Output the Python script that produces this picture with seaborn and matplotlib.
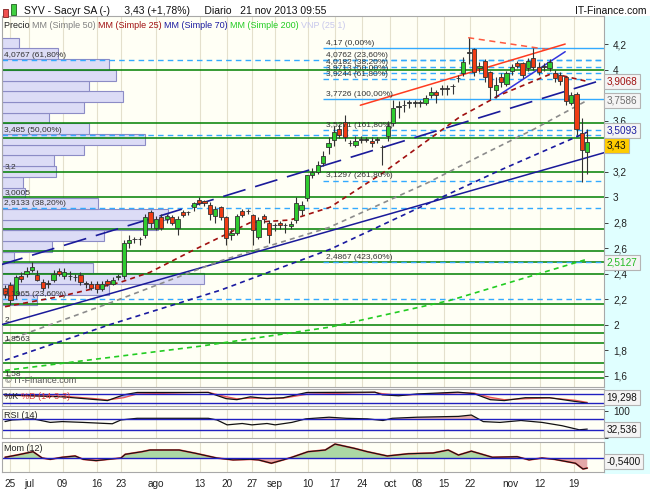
import matplotlib
matplotlib.use("Agg")
import matplotlib.pyplot as plt
import matplotlib.transforms as mtransforms
from matplotlib.patches import Rectangle
from matplotlib.ticker import FuncFormatter
import numpy as np
import seaborn as sns

# ---- SYV daily candles, 25 jun - 21 nov 2013 ----
opens = [2.29, 2.31, 2.23, 2.38, 2.40, 2.43, 2.39, 2.33, 2.32, 2.35,
         2.42, 2.38, 2.38, 2.37, 2.39, 2.32, 2.32, 2.32, 2.28, 2.34,
         2.32, 2.37, 2.38, 2.64, 2.67, 2.67, 2.70, 2.88, 2.76, 2.84,
         2.83, 2.84, 2.76, 2.88, 2.88, 2.92, 2.98, 2.97, 2.94, 2.85,
         2.92, 2.84, 2.70, 2.72, 2.89, 2.89, 2.86, 2.69, 2.85, 2.80,
         2.78, 2.80, 2.78, 2.77, 2.82, 2.90, 2.99, 3.17, 3.20, 3.27,
         3.39, 3.45, 3.53, 3.59, 3.42, 3.41, 3.45, 3.45, 3.44, 3.45,
         3.39, 3.48, 3.58, 3.71, 3.72, 3.74, 3.74, 3.74, 3.74, 3.80,
         3.82, 3.85, 3.85, 3.87, 3.93, 3.97, 4.13, 4.16, 4.01, 4.07,
         3.98, 3.84, 3.94, 3.89, 3.99, 4.05, 4.05, 4.01, 4.09, 4.02,
         4.02, 4.01, 3.97, 3.96, 3.94, 3.74, 3.81, 3.50, 3.35]
highs = [2.31, 2.33, 2.39, 2.41, 2.45, 2.49, 2.43, 2.36, 2.35, 2.43,
         2.44, 2.44, 2.42, 2.40, 2.41, 2.34, 2.34, 2.34, 2.34, 2.36,
         2.37, 2.40, 2.66, 2.70, 2.69, 2.69, 2.87, 2.90, 2.85, 2.87,
         2.87, 2.86, 2.85, 2.90, 2.89, 2.96, 3.00, 2.98, 2.96, 2.93,
         2.93, 2.85, 2.75, 2.87, 2.91, 2.91, 2.87, 2.84, 2.87, 2.82,
         2.80, 2.81, 2.80, 2.81, 3.00, 2.97, 3.17, 3.23, 3.28, 3.36,
         3.47, 3.56, 3.57, 3.64, 3.45, 3.48, 3.48, 3.47, 3.47, 3.47,
         3.41, 3.60, 3.76, 3.75, 3.76, 3.76, 3.76, 3.76, 3.80, 3.86,
         3.84, 3.88, 3.88, 3.89, 3.96, 4.10, 4.25, 4.17, 4.06, 4.08,
         3.99, 3.94, 3.97, 3.99, 4.04, 4.07, 4.06, 4.09, 4.17, 4.06,
         4.05, 4.08, 4.00, 3.98, 3.95, 3.82, 3.82, 3.62, 3.53]
lows = [2.21, 2.15, 2.20, 2.33, 2.37, 2.41, 2.34, 2.26, 2.29, 2.33,
        2.38, 2.36, 2.35, 2.34, 2.31, 2.29, 2.27, 2.25, 2.26, 2.30,
        2.31, 2.35, 2.36, 2.60, 2.64, 2.62, 2.68, 2.76, 2.74, 2.74,
        2.80, 2.78, 2.70, 2.84, 2.86, 2.89, 2.94, 2.93, 2.82, 2.80,
        2.82, 2.62, 2.66, 2.70, 2.84, 2.87, 2.62, 2.67, 2.80, 2.64,
        2.73, 2.75, 2.72, 2.75, 2.80, 2.86, 2.97, 3.15, 3.18, 3.24,
        3.34, 3.40, 3.46, 3.44, 3.40, 3.39, 3.42, 3.43, 3.39, 3.42,
        3.25, 3.44, 3.56, 3.62, 3.67, 3.70, 3.71, 3.71, 3.72, 3.78,
        3.74, 3.80, 3.80, 3.81, 3.90, 3.95, 4.04, 3.95, 3.98, 3.90,
        3.77, 3.78, 3.86, 3.87, 3.96, 4.01, 3.93, 3.99, 4.00, 3.96,
        3.99, 3.99, 3.90, 3.88, 3.72, 3.72, 3.49, 3.12, 3.18]
closes = [2.24, 2.19, 2.37, 2.36, 2.42, 2.45, 2.35, 2.29, 2.32, 2.40,
          2.40, 2.41, 2.38, 2.37, 2.33, 2.32, 2.29, 2.28, 2.32, 2.32,
          2.35, 2.38, 2.64, 2.66, 2.67, 2.67, 2.84, 2.80, 2.83, 2.76,
          2.85, 2.80, 2.83, 2.86, 2.88, 2.95, 2.95, 2.95, 2.87, 2.91,
          2.84, 2.68, 2.72, 2.85, 2.86, 2.89, 2.74, 2.82, 2.83, 2.70,
          2.78, 2.78, 2.78, 2.79, 2.95, 2.94, 3.17, 3.20, 3.25, 3.32,
          3.42, 3.51, 3.49, 3.47, 3.42, 3.44, 3.45, 3.45, 3.42, 3.45,
          3.39, 3.56, 3.70, 3.71, 3.72, 3.74, 3.74, 3.74, 3.78, 3.82,
          3.80, 3.85, 3.85, 3.87, 3.93, 4.06, 4.13, 3.98, 4.03, 3.94,
          3.86, 3.88, 3.90, 3.97, 4.02, 4.03, 3.96, 4.07, 4.02, 3.98,
          4.02, 4.06, 3.93, 3.91, 3.75, 3.80, 3.53, 3.37, 3.43]

tick_labels = ["25", "jul", "09", "16", "23", "ago", "13", "20", "27", "sep",
               "10", "17", "24", "oct", "08", "15", "22", "nov", "12", "19"]
tick_pos = [1.0, 4.5, 10.7, 17.0, 21.5, 28.0, 36.2, 41.2, 45.8, 50.1,
            56.2, 61.2, 66.3, 71.4, 76.4, 81.4, 86.3, 93.7, 99.3, 105.6]

# moving averages (sampled along the curves)
sma50_x = [0, 19.5, 40, 60, 78.3, 89.4, 98, 108]
sma50 = [1.87, 2.17, 2.50, 2.76, 3.11, 3.35, 3.53, 3.7586]
sma25_x = [0, 10.2, 21.3, 26.9, 34.3, 45.5, 52.9, 60.3, 70.1, 84.4, 91.8, 101.5, 108]
sma25 = [2.14, 2.22, 2.33, 2.41, 2.57, 2.80, 2.82, 2.92, 3.19, 3.63, 3.80, 3.97, 3.9068]
sma70_x = [0, 19.5, 40, 60.3, 77, 91.8, 108]
sma70 = [1.72, 2.00, 2.27, 2.59, 2.92, 3.21, 3.5093]
sma200_x = [0, 36.2, 60.3, 82.6, 108]
sma200 = [1.64, 1.83, 1.98, 2.19, 2.5127]

# volume-by-price profile, 25 bins, bottom to top
vnp = [35, 107, 202, 91, 12, 50, 102, 156, 166, 96, 23, 21, 54,
       52, 82, 143, 87, 47, 82, 121, 87, 114, 107, 56, 17]

green_levels = [4.0, 3.58, 3.465, 3.2, 3.0005, 2.75, 2.58, 2.49, 2.40,
                2.16, 2.0, 1.93, 1.8563, 1.695, 1.625, 1.58]
green_named = [3.2, 3.0005, 2.0, 1.8563, 1.58]

fibA = [4.17, 4.0762, 4.0182, 3.9713, 3.9244, 3.7726, 3.5271, 3.1297, 2.4867]
fibA_pct = ["0,00%", "23,60%", "38,20%", "50,00%", "61,80%", "100,00%",
            "161,80%", "261,80%", "423,60%"]
fibB = [4.0767, 3.485, 2.9133, 2.1965]
fibB_pct = ["61,80%", "50,00%", "38,20%", "23,60%"]

# trend lines: (x0, y0, x1, y1)
trend_long_dash = (-0.9, 2.467, 111.3, 3.925)
trend_navy = (-0.9, 1.996, 111.3, 3.35)
trend_red = (65.9, 3.72, 103.9, 4.20)
trend_red_dash = (85.9, 4.25, 100.2, 4.16)
trend_blue = (90.9, 3.78, 103.9, 4.14)

# indicators
stoch_x = [0, 10.6, 17, 19, 22, 24.5, 37.7, 41, 43, 45.5, 48.6, 51.6, 56,
           68.6, 70, 73, 76.4, 84, 87, 90, 92.6, 96.5, 101, 105.8, 108]
stoch_k = [74, 61, 42, 36, 74, 90, 90, 49, 42, 61, 49, 55, 90,
           92, 74, 68, 80, 92, 82, 42, 36, 55, 55, 30, 19.298]
stoch_d = [70, 66, 48, 40, 55, 80, 91, 62, 48, 52, 52, 52, 78,
           91, 82, 72, 76, 88, 86, 58, 42, 48, 54, 38, 24]

rsi_x = [0, 1.3, 5.2, 8.4, 10.6, 14.5, 19.9, 21.5, 24.5, 37.7, 39.3, 41.2,
         44, 45.8, 48.6, 50.1, 53.2, 55.8, 60.1, 63.3, 67.2, 70.1, 71.8,
         76.4, 84.1, 86.5, 88.7, 91.8, 95.7, 99.6, 103.3, 106.5, 108]
rsi = [60, 66, 70, 57, 60, 57, 52, 66, 72, 72, 66, 48,
       53, 48, 53, 48, 57, 70, 76, 72, 70, 64, 72,
       76, 79, 84, 60, 57, 64, 57, 45, 30, 32.536]

mom_x = [0, 2.2, 5.2, 6.9, 8.4, 10.6, 13, 14.5, 16.9, 19.1, 21.5, 22.3,
         25.4, 26.9, 32.3, 35.4, 39.3, 42.3, 45.5, 47, 49.4, 51.6, 53.2,
         56.2, 59.4, 61.2, 64.8, 67.2, 70.9, 74.8, 79.4, 82.2, 84.1, 86.5,
         90.4, 95, 97.2, 99.6, 101.9, 105.8, 107.2, 108]
mom = [0.04, 0.16, 0.34, 0, -0.07, 0.04, 0.11, -0.07, -0.14, -0.07, 0, 0.2,
       0.34, 0.43, 0.43, 0.25, 0, -0.1, -0.07, -0.1, -0.28, -0.1, 0.04,
       0.34, 0.43, 0.75, 0.52, 0.34, 0.11, 0.23, 0.27, 0.43, 0.16, 0.37,
       0.04, 0.07, -0.1, 0, -0.07, -0.28, -0.59, -0.54]


def fmt(v):
    return ("%g" % v).replace(".", ",")


sns.set_style("white")
plt.rcParams["font.family"] = ["Liberation Sans", "DejaVu Sans"]

W, H = 650, 490
fig = plt.figure(figsize=(W / 100, H / 100), dpi=100)


def box(x0, y0, x1, y1):
    return [x0 / W, 1 - y1 / H, (x1 - x0) / W, (y1 - y0) / H]


# light cyan strip behind the right price scale
fig.patches.append(Rectangle((604 / W, 1 - 474 / H), 46 / W, 458 / H,
                             transform=fig.transFigure, fc="#e0ffff", ec="none", zorder=-5))

ax = fig.add_axes(box(2, 16, 604, 387))
ax_st = fig.add_axes(box(2, 389, 604, 406), sharex=ax)
ax_rsi = fig.add_axes(box(2, 409, 604, 438), sharex=ax)
ax_mom = fig.add_axes(box(2, 442, 604, 472), sharex=ax)
panels = [ax, ax_st, ax_rsi, ax_mom]

for a in panels:
    a.set_facecolor("#fffff5")
    for sp in a.spines.values():
        sp.set_color("#a8a8a8")
        sp.set_linewidth(0.8)
    a.grid(axis="x", color="#e4e0cc", lw=0.8)
    a.set_axisbelow(True)
    a.yaxis.tick_right()
    a.tick_params(axis="both", labelsize=7.2, colors="#222222", length=3, width=0.6)
    a.tick_params(axis="x", labelbottom=False, length=0)

ax.set_xticks(tick_pos)
ax.set_xlim(-0.56, 111.1)

# ---- main price panel ----
blend = mtransforms.blended_transform_factory(ax.transAxes, ax.transData)
edges = np.linspace(min(lows), max(highs), len(vnp) + 1)
ax.barh(edges[:-1], np.array(vnp) / 602.0, height=edges[1] - edges[0], left=0,
        align="edge", transform=blend, facecolor="#dcdcf6", edgecolor="#8c8cc6",
        linewidth=0.8, zorder=1)

for lv in green_levels:
    ax.axhline(lv, color="#008000", lw=1.1, zorder=2)
for lv in green_named:
    ax.text(0.004, lv + 0.008, fmt(lv), transform=blend, fontsize=6, color="#333333",
            va="bottom", zorder=6)

for lv, p in zip(fibB, fibB_pct):
    ax.axhline(lv, color="#33aaff", lw=1.0, ls=(0, (4, 3)), zorder=2)
    ax.text(0.004, lv + 0.008, "%s (%s)" % (fmt(lv), p), transform=blend, fontsize=6,
            color="#333333", va="bottom", zorder=6)

for lv, p in zip(fibA, fibA_pct):
    ls = "-" if p in ("0,00%", "100,00%") else (0, (4, 3))
    ax.hlines(lv, 59, 111.1, color="#33aaff", lw=1.0, linestyles=ls, zorder=2)
    ax.text(59.6, lv + 0.008, "%s (%s)" % (fmt(lv), p), fontsize=6, color="#333333",
            va="bottom", zorder=6)

ax.plot(trend_long_dash[::2], trend_long_dash[1::2], color="#1a1a9a", lw=1.2,
        ls=(0, (14, 6)), zorder=3)
ax.plot(trend_navy[::2], trend_navy[1::2], color="#1a1a9a", lw=1.1, zorder=3)
ax.plot(trend_red[::2], trend_red[1::2], color="#ff3b1f", lw=1.1, zorder=3)
ax.plot(trend_red_dash[::2], trend_red_dash[1::2], color="#ff5a40", lw=1.1,
        ls=(0, (4, 3)), zorder=3)
ax.plot(trend_blue[::2], trend_blue[1::2], color="#3333dd", lw=1.1, zorder=3)

ma_style = dict(ax=ax, linestyle=(0, (3, 2.5)), linewidth=1.2, zorder=3)
sns.lineplot(x=sma200_x, y=sma200, color="#22cc22", **ma_style)
sns.lineplot(x=sma50_x, y=sma50, color="#8c8c8c", **ma_style)
sns.lineplot(x=sma70_x, y=sma70, color="#1a1aa0", **ma_style)
sns.lineplot(x=sma25_x, y=sma25, color="#a01010", **ma_style)

idx = np.arange(len(closes))
o = np.array(opens)
c = np.array(closes)
ax.vlines(idx, lows, highs, color="#333333", lw=0.8, zorder=4)
body_col = ["#2fcc2f" if cc > oo else ("#333333" if cc == oo else "#f03c14")
            for oo, cc in zip(o, c)]
ax.bar(idx, np.maximum(np.abs(c - o), 0.004), bottom=np.minimum(o, c), width=0.78,
       color=body_col, edgecolor="#333333", linewidth=0.6, zorder=5)

ax.set_ylim(1.51, 4.42)
ax.set_yticks(np.arange(1.6, 4.25, 0.2))
# 3,4 and 3,8 sit under the value boxes
ax.yaxis.set_major_formatter(FuncFormatter(
    lambda v, p: "" if round(v, 1) in (3.4, 3.8) else fmt(round(v, 1))))
ax.set_xlim(-0.56, 111.1)


def value_box(a, y, s, color, fc="#f4f4f4", trans=None, dy=0):
    a.annotate(s, xy=(1.004, y),
               xycoords=trans or mtransforms.blended_transform_factory(a.transAxes, a.transData),
               xytext=(0, dy), textcoords="offset points", ha="left", va="center",
               fontsize=7.2, color=color, zorder=8, annotation_clip=False,
               bbox=dict(boxstyle="square,pad=0.25", fc=fc, ec="#b4b4b4", lw=0.8))


value_box(ax, sma25[-1], fmt(sma25[-1]), "#a01010")
value_box(ax, sma50[-1], fmt(sma50[-1]), "#707070")
value_box(ax, sma70[-1], fmt(sma70[-1]), "#1a1aa0", dy=1.5)
value_box(ax, closes[-1], fmt(closes[-1]), "#111111", fc="#ffcc00", dy=-2.5)
value_box(ax, sma200[-1], fmt(sma200[-1]), "#22bb22", dy=-2.5)

# legend line at the top of the price panel
t = ax.text(0.003, 0.962, "Precio ", transform=ax.transAxes, fontsize=6.5,
            color="#222222", va="bottom", zorder=8)
for s, col in [("MM (Simple 50) ", "#808080"), ("MM (Simple 25) ", "#a01010"),
               ("MM (Simple 70) ", "#1a1aa0"), ("MM (Simple 200) ", "#22cc22"),
               ("VNP (25 1)", "#c8c8ec")]:
    t = ax.annotate(s, xy=(1, 0), xycoords=t, va="bottom", fontsize=6.5, color=col, zorder=8)

ax.text(0.005, 0.005, "\u00a9 IT-Finance.com", transform=ax.transAxes, fontsize=6.5,
        color="#555555", va="bottom", zorder=8)

# ---- stochastic ----
sk = np.array(stoch_k)
sd = np.array(stoch_d)
ax_st.fill_between(stoch_x, sk, sd, where=sk >= sd, interpolate=True, color="#a8a8ee", lw=0)
ax_st.fill_between(stoch_x, sk, sd, where=sk < sd, interpolate=True, color="#eea8a8", lw=0)
sns.lineplot(x=stoch_x, y=stoch_d, ax=ax_st, color="#ee5555", linewidth=0.9)
sns.lineplot(x=stoch_x, y=stoch_k, ax=ax_st, color="#111111", linewidth=0.9)
for lv in (80, 20):
    ax_st.axhline(lv, color="#2020c0", lw=1.0)
ax_st.set_ylim(0, 113)
ax_st.set_yticks([])
t = ax_st.text(0.004, 0.55, "%K ", transform=ax_st.transAxes, fontsize=6.5,
               color="#222222", va="center")
ax_st.annotate("%D (14-3-3)", xy=(1, 0.5), xycoords=t, va="center", fontsize=6.5,
               color="#e04040")
value_box(ax_st, 0.5, fmt(stoch_k[-1]), "#111111", trans=ax_st.transAxes)

# ---- RSI ----
r = np.array(rsi)
ax_rsi.fill_between(rsi_x, r, 70, where=r > 70, interpolate=True, color="#e8b0a8", lw=0)
ax_rsi.fill_between(rsi_x, r, 30, where=r < 30, interpolate=True, color="#b0b0e8", lw=0)
sns.lineplot(x=rsi_x, y=rsi, ax=ax_rsi, color="#111111", linewidth=0.9)
for lv in (70, 30):
    ax_rsi.axhline(lv, color="#2020c0", lw=1.0)
ax_rsi.set_ylim(1, 106)
ax_rsi.set_yticks([0, 50, 100])
ax_rsi.yaxis.set_major_formatter(FuncFormatter(lambda v, p: "100" if v == 100 else ""))
ax_rsi.text(0.004, 0.78, "RSI (14)", transform=ax_rsi.transAxes, fontsize=6.5,
            color="#222222", va="center")
value_box(ax_rsi, rsi[-1], fmt(rsi[-1]), "#111111")

# ---- momentum ----
m = np.array(mom)
ax_mom.fill_between(mom_x, m, 0, where=m >= 0, interpolate=True, color="#acd8a4", lw=0)
ax_mom.fill_between(mom_x, m, 0, where=m < 0, interpolate=True, color="#e4a8a8", lw=0)
sns.lineplot(x=mom_x, y=mom, ax=ax_mom, color="#ee4444", linewidth=1.3)
sns.lineplot(x=mom_x, y=mom, ax=ax_mom, color="#111111", linewidth=0.8)
ax_mom.axhline(0, color="#2020c0", lw=1.0)
ax_mom.set_ylim(-0.75, 0.86)
ax_mom.set_yticks([])
ax_mom.text(0.004, 0.78, "Mom (12)", transform=ax_mom.transAxes, fontsize=6.5,
            color="#222222", va="center")
value_box(ax_mom, 0.35, "-0,5400", "#111111", trans=ax_mom.transAxes)

ax_mom.tick_params(axis="x", labelbottom=True, length=3, labelsize=7.2, pad=2)
ax_mom.set_xticks(tick_pos)
ax_mom.set_xticklabels(tick_labels)
ax_mom.set_xlim(-0.56, 111.1)
for a in panels:
    a.set_xlabel("")
    a.set_ylabel("")

# ---- header ----
fig.patches.append(Rectangle((3 / W, 1 - 17 / H), 5 / W, 8 / H, transform=fig.transFigure,
                             fc="#f05050", ec="#802020", lw=0.6))
fig.patches.append(Rectangle((11 / W, 1 - 15 / H), 5 / W, 11 / H, transform=fig.transFigure,
                             fc="#40d040", ec="#206020", lw=0.6))
fig.text(24 / W, 1 - 11 / H, "SYV - Sacyr SA (-)     3,43 (+1,78%)     Diario   21 nov 2013 09:55",
         fontsize=7.5, color="#111111", va="center")
fig.text(646 / W, 1 - 11 / H, "IT-Finance.com", fontsize=7.5, color="#111111",
         va="center", ha="right")

fig.savefig("out.png", dpi=100)
